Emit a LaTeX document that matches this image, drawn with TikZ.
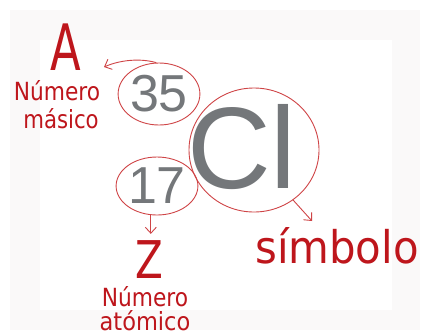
\documentclass[tikz,border=0pt]{standalone}
\usepackage{fontspec}
\setmainfont{DejaVu Sans}
\newfontfamily\numfont{Liberation Sans}
\usetikzlibrary{shapes.geometric,arrows.meta}
\definecolor{inkred}{HTML}{BE161C}
\definecolor{loopred}{HTML}{CF4446}
\definecolor{elgray}{HTML}{74777A}
\definecolor{framegray}{HTML}{FAF9F9}
\tikzset{
  redtext/.style={text=inkred, inner sep=0pt, anchor=base},
  graytext/.style={text=elgray, inner sep=0pt, font=\numfont\fontsize{52}{52}\selectfont},
  loopline/.style={draw=loopred, line width=0.9pt},
  looparrow/.style={loopred, line width=0.9pt, -{Straight Barb[length=6pt,width=11pt]}},
  label25/.style={redtext, font=\fontsize{25}{25}\selectfont}
}
\begin{document}
\begin{tikzpicture}[x=1pt,y=-1pt]
\useasboundingbox (0,0) rectangle (427,335);
\fill[white] (0,0) rectangle (427,335);
\fill[framegray] (10,10) rectangle (420,330);
\fill[white] (40,40) rectangle (392,310);

% red labels
\node[redtext, font=\fontsize{64}{64}\selectfont, xscale=0.7] (A) at (66,70) {A};
\node[label25, xscale=0.87] (numA) at (57,100) {Número};
\node[label25, xscale=0.85] (masico) at (61,128) {másico};
\node[redtext, font=\fontsize{52}{52}\selectfont, xscale=0.78] (Z) at (149,278) {Z};
\node[label25, xscale=0.87] (numZ) at (145,306) {Número};
\node[label25, xscale=0.9] (atomico) at (145,330) {atómico};
\node[redtext, font=\fontsize{45}{45}\selectfont, xscale=0.93] (sym) at (337,263) {símbolo};

% gray element
\node[graytext, ellipse, loopline, minimum width=78pt, minimum height=62pt] (n35) at (159,94) {35};
\node[graytext, ellipse, loopline, minimum width=70pt, minimum height=58pt] (n17) at (157,186) {17};
\node[text=elgray, inner sep=0pt, font=\numfont\fontsize{116}{116}\selectfont] (cl) at (242,147) {Cl};
\node[ellipse, loopline, minimum width=130pt, minimum height=124pt] (lcl) at (254,150) {};

% arrows
\coordinate (tipA) at (104,67);
\coordinate (tipS) at (312,221);
\draw[looparrow] (n35.95) .. controls (140,58) and (120,60) .. (tipA);
\draw[looparrow, shorten >=6pt] (n17.258) -- (n17.258 |- Z.north);
\draw[looparrow] (lcl.-52) -- (tipS);
\end{tikzpicture}
\end{document}
